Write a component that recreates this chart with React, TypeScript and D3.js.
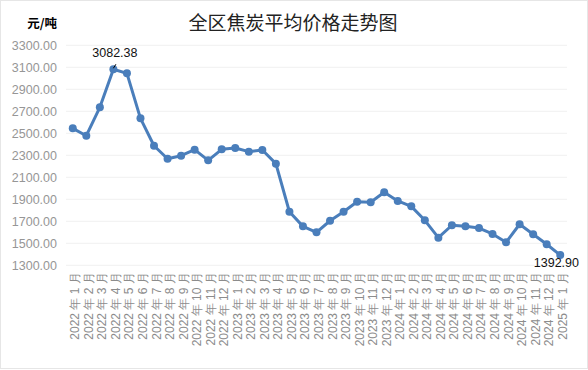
import React from "react";
import * as d3 from "d3";

const categories: string[] = [
  "2022 年 1 月","2022 年 2 月","2022 年 3 月","2022 年 4 月","2022 年 5 月","2022 年 6 月",
  "2022 年 7 月","2022 年 8 月","2022 年 9 月","2022 年 10 月","2022 年 11 月","2022 年 12 月",
  "2023 年 1 月","2023 年 2 月","2023 年 3 月","2023 年 4 月","2023 年 5 月","2023 年 6 月",
  "2023 年 7 月","2023 年 8 月","2023 年 9 月","2023 年 10 月","2023 年 11 月","2023 年 12 月",
  "2024 年 1 月","2024 年 2 月","2024 年 3 月","2024 年 4 月","2024 年 5 月","2024 年 6 月",
  "2024 年 7 月","2024 年 8 月","2024 年 9 月","2024 年 10 月","2024 年 11 月","2024 年 12 月",
  "2025 年 1 月",
];

const prices: number[] = [
  2545, 2478, 2736, 3082.38, 3045, 2636, 2387, 2269, 2296, 2351, 2254, 2354,
  2366, 2333, 2348, 2224, 1787, 1654, 1600, 1705, 1787, 1878, 1873, 1964,
  1885, 1836, 1709, 1551, 1664, 1654, 1639, 1585, 1509, 1673, 1582, 1491,
  1392.9,
];

const yTicks: number[] = [1300, 1500, 1700, 1900, 2100, 2300, 2500, 2700, 2900, 3100, 3300];
const labelledIndices: number[] = [3, 36];

const W = 588;
const H = 370;
const plotLeft = 66;
const plotRight = 567;
const plotTop = 45.3;
const plotBottom = 265.3;
const color = "#4a7ebb";

export default function App() {
  const x = d3.scaleBand<string>().domain(categories).range([plotLeft, plotRight]).padding(0);
  const y = d3.scaleLinear().domain([1300, 3300]).range([plotBottom, plotTop]);
  const cx = (i: number) => (x(categories[i]) as number) + x.bandwidth() / 2;
  const line = d3
    .line<number>()
    .x((_, i) => cx(i))
    .y((d) => y(d));

  return (
    <svg
      width={W}
      height={H}
      style={{ position: "absolute", left: 0, top: 0, background: "#fff" }}
      fontFamily="'Liberation Sans', Arial, sans-serif"
    >
      <rect x={0.5} y={0.5} width={587} height={368} fill="#fff" stroke="#e6e6e6" />
      <text x={293} y={30} textAnchor="middle" fontSize={19} fill="#222" fontFamily="'Noto Sans CJK SC', sans-serif">
        全区焦炭平均价格走势图
      </text>
      <text x={57} y={28} textAnchor="end" fontSize={12.5} fontWeight="bold" fill="#000" fontFamily="'Noto Sans CJK SC', sans-serif">
        元/吨
      </text>
      {yTicks.map((t) => (
        <g key={t}>
          <line x1={plotLeft} x2={plotRight} y1={y(t)} y2={y(t)} stroke="#f0f0f0" strokeWidth={1} />
          <text x={57} y={y(t)} dy="0.36em" textAnchor="end" fontSize={12.5} fill="#969696">
            {d3.format(".2f")(t)}
          </text>
        </g>
      ))}
      {categories.map((c, i) => (
        <text
          key={c}
          transform={`translate(${cx(i) + 6.5},${plotBottom + 7}) rotate(-90)`}
          textAnchor="end"
          fontSize={12}
          fill="#8c8c8c"
        >
          {c}
        </text>
      ))}
      <path d={line(prices) || ""} fill="none" stroke={color} strokeWidth={3} strokeLinejoin="round" />
      {prices.map((v, i) => (
        <circle key={i} cx={cx(i)} cy={y(v)} r={4} fill={color} />
      ))}
      {labelledIndices.map((i) =>
        i === 3 ? (
          <g key={i}>
            <line x1={cx(i) + 2.5} y1={y(prices[i]) - 5} x2={cx(i)} y2={y(prices[i]) - 1} stroke="#000" strokeWidth={1} />
            <text x={cx(i) + 1.5} y={57} textAnchor="middle" fontSize={12.5} fill="#111">
              {d3.format(".2f")(prices[i])}
            </text>
          </g>
        ) : (
          <text key={i} x={579} y={y(prices[i]) + 12} textAnchor="end" fontSize={12.5} fill="#111">
            {d3.format(".2f")(prices[i])}
          </text>
        )
      )}
    </svg>
  );
}
